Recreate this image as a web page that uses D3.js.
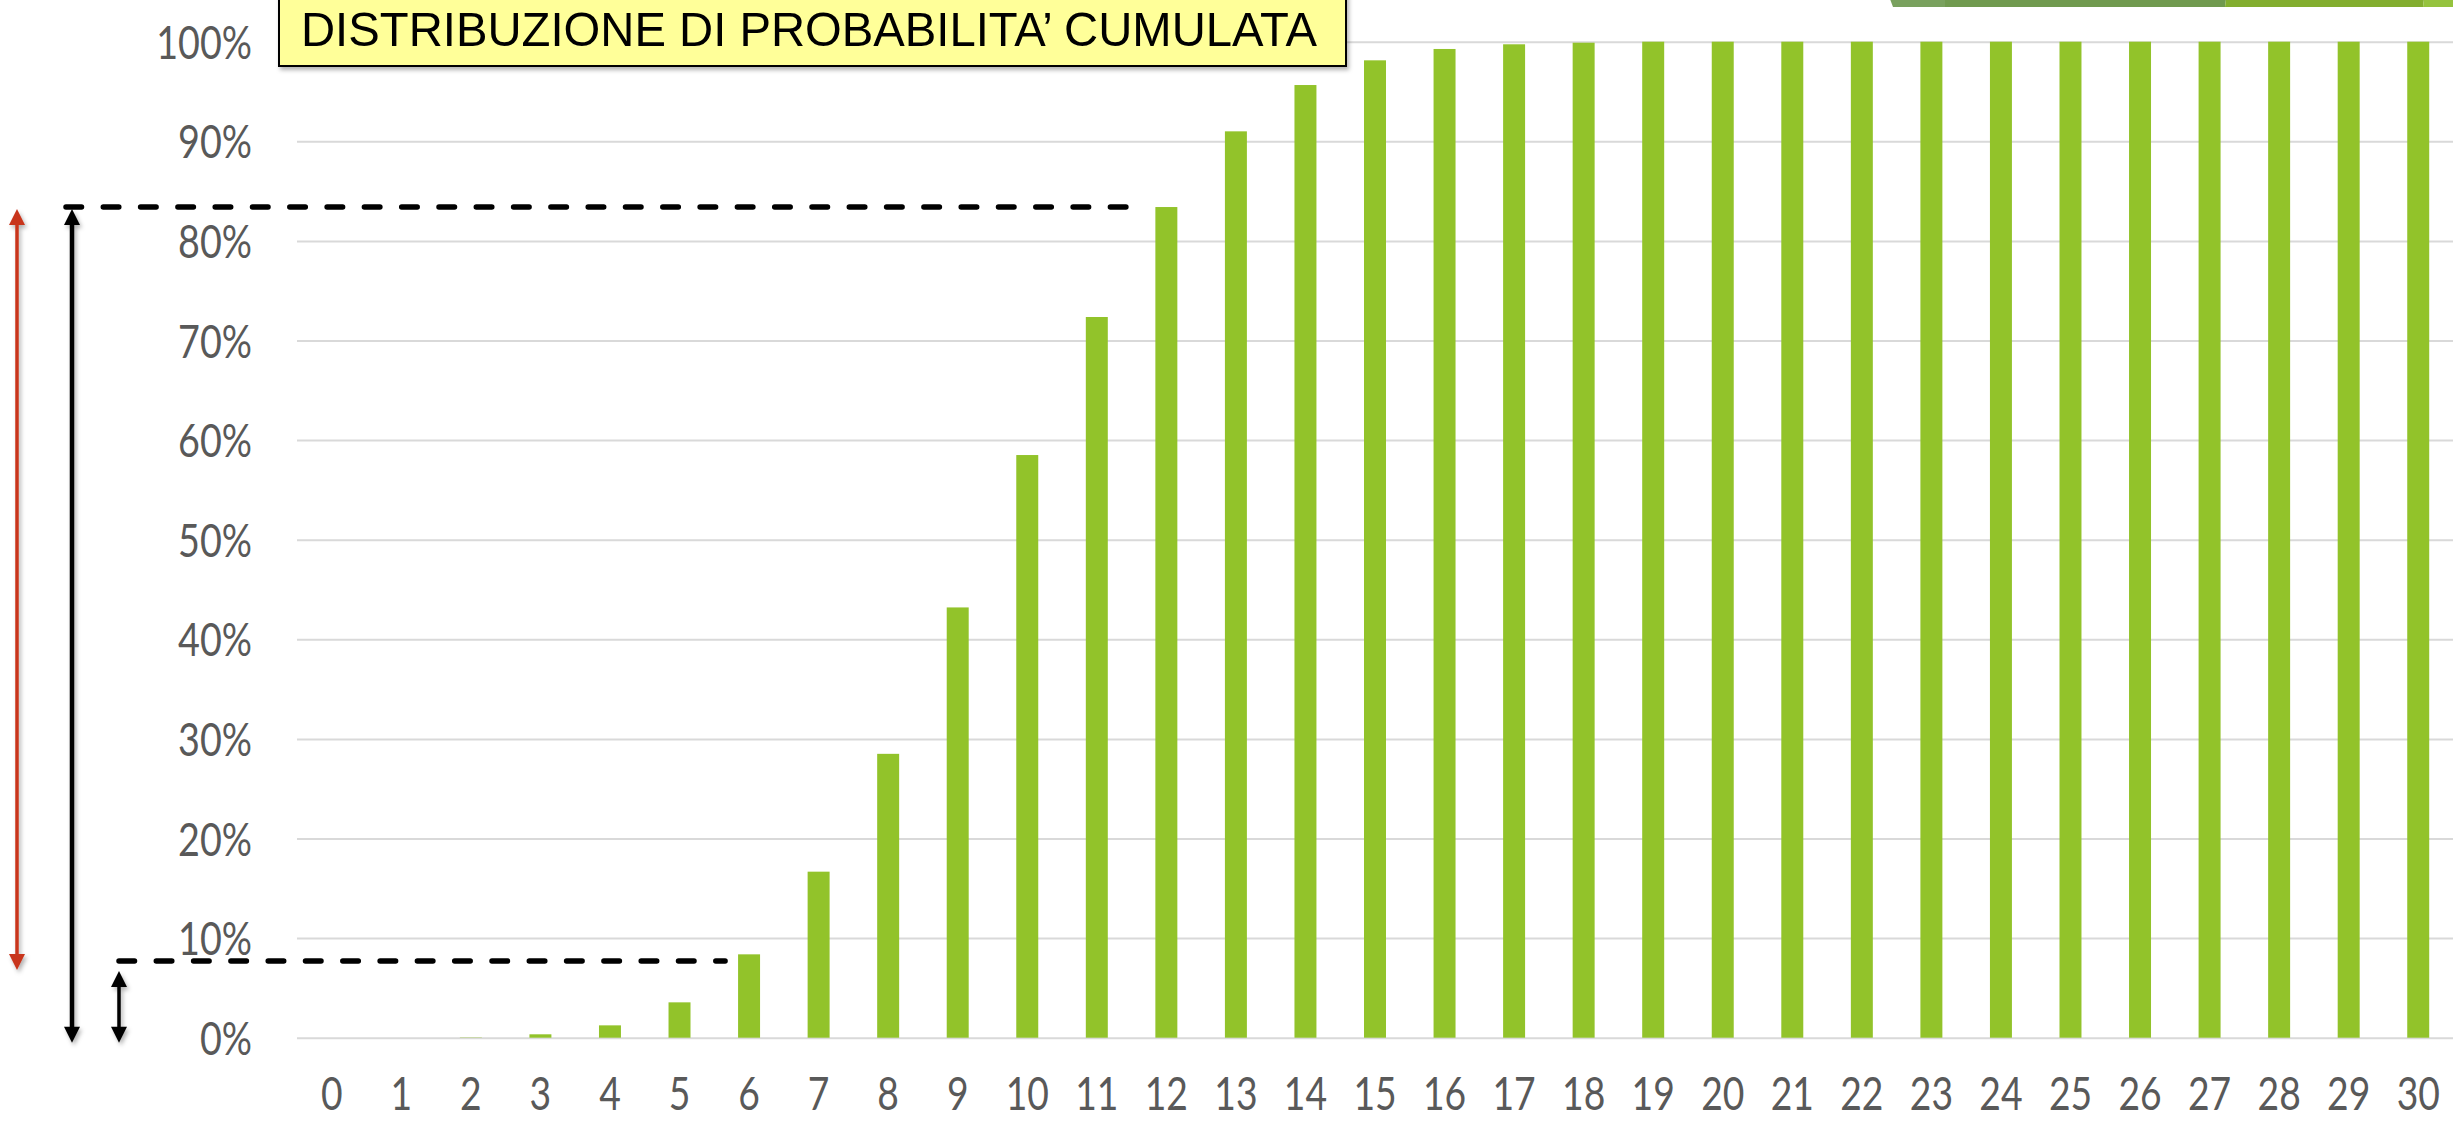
<!DOCTYPE html>
<html><head><meta charset="utf-8">
<script src="https://cdn.jsdelivr.net/npm/d3@7"></script>
<style>body{margin:0;background:#fff;overflow:hidden} svg{display:block}</style>
</head><body>
<svg id="chart" width="2453" height="1121"></svg>
<script>
// ---- data ----
const categories = ["0","1","2","3","4","5","6","7","8","9","10","11","12","13","14","15","16","17","18","19","20","21","22","23","24","25","26","27","28","29","30"];
const cumulative = [0, 0, 0.0003, 0.0034, 0.0124, 0.0355, 0.0837, 0.1667, 0.285, 0.432, 0.585, 0.7236, 0.834, 0.910, 0.9565, 0.9813, 0.9927, 0.9974, 0.999, 1, 1, 1, 1, 1, 1, 1, 1, 1, 1, 1, 1];
const yTicks = [0, 0.1, 0.2, 0.3, 0.4, 0.5, 0.6, 0.7, 0.8, 0.9, 1.0];
const titleText = "DISTRIBUZIONE DI PROBABILITA\u2019 CUMULATA";
const upperCategory = "12";   // dashed line level = cumulative at 12
const lowerLevel = 0.077;     // lower dashed line level
const lowerCategory = "6";
const redArrowRange = [0.068, 0.832];

// ---- layout ----
const W = 2453, H = 1121;
const plotLeft = 297, plotRight = 2453, plotBottom = 1037.7, plotTop = 41.7;
const svg = d3.select("#chart");

const defs = svg.append("defs");
const f = defs.append("filter").attr("id","shadow").attr("x","-50%").attr("y","-50%").attr("width","200%").attr("height","200%");
f.append("feDropShadow").attr("dx",2).attr("dy",3).attr("stdDeviation",2).attr("flood-color","#000").attr("flood-opacity",0.3);

const x = d3.scaleBand().domain(categories).range([plotLeft, plotRight]).paddingInner(0.684).paddingOuter(0.342);
const y = d3.scaleLinear().domain([0, 1]).range([plotBottom, plotTop]);

// gridlines
const grid = svg.append("g").attr("transform", `translate(${plotLeft},0)`)
  .call(d3.axisLeft(y).tickValues(yTicks).tickSize(-(plotRight - plotLeft)).tickFormat(""));
grid.select(".domain").remove();
grid.selectAll("line").attr("stroke", "#D9D9D9").attr("stroke-width", 2);

// top-right decorative band
const deco = svg.append("g");
deco.append("polygon").attr("points","1890,-1 1945,-1 1945,7 1893,7").attr("fill","#79A15E");
deco.append("polygon").attr("points","1945,-1 2226,-1 2225,7 1945,7").attr("fill","#709A4F");
deco.append("polygon").attr("points","2226,-1 2424,-1 2423,7 2225,7").attr("fill","#83AE2F");
deco.append("polygon").attr("points","2424,-1 2453,-1 2453,7 2423,7").attr("fill","#95C33E");

// bars
svg.append("g").selectAll("rect").data(categories).join("rect")
  .attr("x", d => x(d))
  .attr("width", x.bandwidth())
  .attr("y", (d, i) => y(cumulative[i]))
  .attr("height", (d, i) => plotBottom - y(cumulative[i]))
  .attr("fill", "#92C32A");

// y axis labels
const sx = 0.82;
const yAx = svg.append("g").attr("transform", `translate(${plotLeft},0)`)
  .call(d3.axisLeft(y).tickValues(yTicks).tickFormat(d3.format(".0%")).tickSize(0).tickPadding(0));
yAx.select(".domain").remove();
yAx.selectAll("text")
  .attr("x", -45 / sx).attr("dy", "0.36em")
  .attr("transform", `scale(${sx},1)`)
  .attr("fill", "#595959")
  .style("font-family", "Lato, 'Open Sans', sans-serif")
  .style("font-size", "46px");

// x axis labels
const xAx = svg.append("g").attr("transform", `translate(0,${plotBottom})`)
  .call(d3.axisBottom(x).tickSize(0).tickPadding(0));
xAx.select(".domain").remove();
xAx.selectAll("text")
  .attr("y", 72).attr("dy", "0")
  .attr("transform", `scale(0.81,1)`)
  .attr("fill", "#595959")
  .style("font-family", "Lato, 'Open Sans', sans-serif")
  .style("font-size", "46px");

// dashed lines
const upperY = y(cumulative[categories.indexOf(upperCategory)]);
const lowerY = y(lowerLevel);
svg.append("line")
  .attr("x1", 66).attr("x2", x(upperCategory) - 23)
  .attr("y1", upperY).attr("y2", upperY)
  .attr("stroke", "#000").attr("stroke-width", 5.5).attr("stroke-linecap", "round")
  .attr("stroke-dasharray", "15.5 21.8");
svg.append("line")
  .attr("x1", 119).attr("x2", x(lowerCategory) - 13)
  .attr("y1", lowerY).attr("y2", lowerY)
  .attr("stroke", "#000").attr("stroke-width", 5.5).attr("stroke-linecap", "round")
  .attr("stroke-dasharray", "15.5 21.8");

// arrows
function dblArrow(xc, yTop, yBot, color, lw, hw, hl) {
  const g = svg.append("g").attr("filter", "url(#shadow)");
  g.append("line").attr("x1", xc).attr("x2", xc).attr("y1", yTop + hl - 1).attr("y2", yBot - hl + 1)
    .attr("stroke", color).attr("stroke-width", lw);
  g.append("polygon").attr("points", `${xc},${yTop} ${xc - hw / 2},${yTop + hl} ${xc + hw / 2},${yTop + hl}`).attr("fill", color);
  g.append("polygon").attr("points", `${xc},${yBot} ${xc - hw / 2},${yBot - hl} ${xc + hw / 2},${yBot - hl}`).attr("fill", color);
}
dblArrow(17, y(redArrowRange[1]), y(redArrowRange[0]), "#C8361E", 3.5, 16, 16);
dblArrow(72, upperY + 2, plotBottom + 5, "#000", 4.5, 16, 16);
dblArrow(119, lowerY + 10, plotBottom + 5, "#000", 3.5, 16, 16);

// title box
const tb = svg.append("g");
tb.append("rect").attr("x", 279).attr("y", -6).attr("width", 1067).attr("height", 72)
  .attr("fill", "#FFFF99").attr("stroke", "#000").attr("stroke-width", 2)
  .attr("filter", "url(#shadow)");
tb.append("text").attr("x", 301).attr("y", 46)
  .attr("textLength", 1016).attr("lengthAdjust", "spacingAndGlyphs")
  .style("font-family", "'Liberation Sans', Arial, sans-serif")
  .style("font-size", "49px")
  .attr("fill", "#000")
  .text(titleText);
</script>
</body></html>
